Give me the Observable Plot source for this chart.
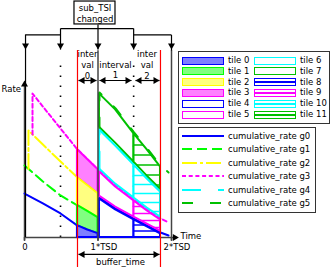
<!DOCTYPE html>
<html><head><meta charset="utf-8">
<script src="https://cdn.jsdelivr.net/npm/d3@7"></script>
<script src="https://cdn.jsdelivr.net/npm/@observablehq/plot@0.6"></script>
<style>
html,body{margin:0;padding:0;background:#fff;}
#wrap{position:relative;width:332px;height:267px;overflow:hidden;font-family:"DejaVu Sans",sans-serif;}
#wrap svg{position:absolute;left:0;top:0;}
.lbox{position:absolute;border:1.5px solid #333;box-sizing:border-box;background:#fff;}
.sw{position:absolute;box-sizing:border-box;}
.lt{position:absolute;font-size:8.5px;line-height:10px;white-space:nowrap;color:#000;}
</style></head><body><div id="wrap"></div>
<script>
// ---------- data (time in TSD units, rate normalised to axis height) ----------
// before 1*TSD
const g0T = [0, 0.25, 0.49, 0.72, 0.86, 1.0];
const g0R = [0.280, 0.217, 0.153, 0.076, 0.048, 0.025];
const g1T = [0, 0.25, 0.49, 0.72, 0.86, 1.0];
const g1R = [0.459, 0.357, 0.268, 0.204, 0.166, 0.127];
const g2T = [0.054, 0.054, 0.25, 0.49, 0.72, 0.86, 1.0];
const g2R = [0.436, 0.682, 0.592, 0.484, 0.382, 0.331, 0.280];
const g3T = [0.109, 0.109, 0.25, 0.49, 0.72, 0.86, 1.0];
const g3R = [0.656, 0.917, 0.834, 0.694, 0.561, 0.497, 0.433];
// after 1*TSD
const h0T = [1.02, 1.24, 1.49, 1.67, 1.85, 1.96];
const h0R = [0.255, 0.185, 0.121, 0.076, 0.032, 0.013];
const h3T = [1.02, 1.24, 1.49, 1.67, 1.85, 1.96];
const h3R = [0.427, 0.331, 0.242, 0.178, 0.121, 0.096];
const g4T = [1.02, 1.02, 1.24, 1.49, 1.67, 1.85, 1.96];
const g4R = [0.427, 0.694, 0.592, 0.471, 0.382, 0.299, 0.255];
const g5T = [1.02, 1.02, 1.24, 1.49, 1.67, 1.85, 1.96];
const g5R = [0.694, 0.924, 0.822, 0.669, 0.567, 0.459, 0.414];

const seriesNames = ["cumulative_rate g0","cumulative_rate g1","cumulative_rate g2","cumulative_rate g3","cumulative_rate g4","cumulative_rate g5"];
const seriesColors = ["#0000ff","#00ff00","#ffff00","#ff00ff","#00ffff","#00c000"];
const seriesDash = ["none","10 5","15 3 3 3","4 2.7","19 17","11 17"];

const tileNames = ["tile 0","tile 1","tile 2","tile 3","tile 4","tile 5","tile 6","tile 7","tile 8","tile 9","tile 10","tile 11"];
const tileColors = ["#0000ff","#00ff00","#ffff00","#ff00ff","#0000ff","#ff00ff","#00ffff","#00c000","#0000ff","#ff00ff","#00ffff","#00c000"];
const tileFills = ["#7f7fff","#80ff80","#ffff80","#ff80ff","none","none","none","none","hatch","hatch","hatch","hatch"];
const tileLower = ["zero","g0","g1","g2","zero","h0","h3","g4","zero","h0","h3","g4"];
const tileUpper = ["g0","g1","g2","g3","h0","h3","g4","g5","h0","h3","g4","g5"];
const tileInterval = [0,0,0,0,1,1,1,1,2,2,2,2];
const intervalT = [[0.72, 0.86, 1.0], [1.02, 1.24, 1.49], [1.49, 1.67, 1.85]];
const intervalLabels = ["inter\nval\n0", "interval\n1", "inter\nval\n2"];
const intervalStart = [0.735, 1.02, 1.51];
const intervalEnd = [0.98, 1.456, 1.837];
const intervalMid = [0.857, 1.238, 1.667];
const tickValues = [0, 1, 2];
const tickLabels = ["0", "1*TSD", "2*TSD"];
const bufferTime = [0.721, 1.85];
const subTsiTimes = [0.014, 0.49, 1.0, 1.485, 2.0];

// ---------- tables ----------
const curves = {
  g0: [g0T, g0R], g1: [g1T, g1R], g2: [g2T, g2R], g3: [g3T, g3R],
  h0: [h0T, h0R], h3: [h3T, h3R], g4: [g4T, g4R], g5: [g5T, g5R]
};
function valAt(key, t) {
  if (key === "zero") return 0;
  const [T, R] = curves[key]; let v;
  T.forEach((tt, i) => { if (Math.abs(tt - t) < 1e-9) v = R[i]; });
  return v;
}
const lineSeries = [
  {key:"g0", g:0},{key:"g1", g:1},{key:"g2", g:2},{key:"g3", g:3},
  {key:"h0", g:0},{key:"h3", g:3},{key:"g4", g:4},{key:"g5", g:5}
];
const lineMarks = lineSeries.map(({key, g}) => {
  const [T, R] = curves[key];
  const rows = T.map((t, i) => ({t, r: R[i]}));
  return Plot.line(rows, {x:"t", y:"r", stroke: seriesColors[g], strokeWidth: 2,
    strokeDasharray: seriesDash[g], curve: "linear"});
});
const inset = 0.009;
function tileRows(i) {
  const outl = (tileFills[i] === "none" || tileFills[i] === "hatch") ? inset : 0;
  return intervalT[tileInterval[i]].map(t => {
    const lo = valAt(tileLower[i], t), hi = valAt(tileUpper[i], t);
    return {t, lo: tileLower[i] === "zero" ? lo : lo + outl, hi: hi - outl};
  });
}
const tileOrder = [3,2,1,0, 7,6,5,4, 11,10,9,8];
const tileMarks = tileOrder.map(i => Plot.areaY(tileRows(i), {
  x:"t", y1:"lo", y2:"hi", curve:"linear",
  fill: tileFills[i] === "none" ? "none" : (tileFills[i] === "hatch" ? "white" : tileFills[i]),
  stroke: tileColors[i], strokeWidth: 2
}));

// arrows helper: filled triangle heads
const tri = (data, rot, dx, dy) => Plot.dot(data, {x:d=>d[0], y:d=>d[1], symbol:"triangle", r:2.6,
  rotate: rot, fill:"black", stroke:"none", dx, dy});

const chart = Plot.plot({
  width: 332, height: 267, margin: 0,
  x: {domain:[0, 2], range:[24, 171], axis:null},
  y: {domain:[0, 1], range:[237, 80], axis:null},
  style: {fontFamily:"DejaVu Sans, sans-serif", fontSize:"8.5px", background:"transparent", overflow:"visible", color:"black"},
  marks: [
    // dotted sub-TSI guides
    Plot.ruleX([subTsiTimes[1], subTsiTimes[3]], {y1:0, y2:1.146, stroke:"black", strokeWidth:1.6, strokeDasharray:"1.6 8.4"}),
    // axes
    Plot.ruleY([0], {x1:0, x2:2.07, stroke:"#444", strokeWidth:1.5}),
    Plot.ruleX([0], {y1:-0.02, y2:0.97, stroke:"#444", strokeWidth:1.5}),
    Plot.ruleX(tickValues, {y1:-0.025, y2:0, stroke:"#444", strokeWidth:1.5}),
    tri([[0, 1.0]], 0, 0, 4),
    tri([[2.1, 0]], 90, -4, 0),
    // curves
    ...lineMarks,
    // tiles
    ...tileMarks,
    // buffer_time red lines
    Plot.ruleX(bufferTime, {y1:-0.191, y2:1.191, stroke:"#ff0000", strokeWidth:1.2}),
    // TSD lines
    Plot.ruleX([1, 2], {y1:-0.02, y2:1.19, stroke:"#444", strokeWidth:1.5}),
    Plot.ruleX([subTsiTimes[0]], {y1:0, y2:1.29, stroke:"black", strokeWidth:1.2}),
    // tree
    Plot.link([[subTsiTimes[1], subTsiTimes[3], 1.331, 1.331],
               [subTsiTimes[0], subTsiTimes[1], 1.290, 1.290],
               [subTsiTimes[3], subTsiTimes[4], 1.290, 1.290],
               [subTsiTimes[2], subTsiTimes[2], 1.357, 1.197],
               [subTsiTimes[1], subTsiTimes[1], 1.331, 1.197],
               [subTsiTimes[3], subTsiTimes[3], 1.331, 1.197],
               [subTsiTimes[4], subTsiTimes[4], 1.290, 1.19]],
      {x1:d=>d[0], x2:d=>d[1], y1:d=>d[2], y2:d=>d[3], stroke:"black", strokeWidth:1.2}),
    tri(subTsiTimes.map(t => [t, 1.197]), 180, 0, -4),
    Plot.rect([[0.68, 1.238, 1.357, 1.503]], {x1:d=>d[0], x2:d=>d[1], y1:d=>d[2], y2:d=>d[3], fill:"white", stroke:"black", strokeWidth:1.2}),
    Plot.text(["sub_TSI\nchanged"], {x:0.96, y:1.43, lineHeight:1.25}),
    // interval arrows
    Plot.link(intervalStart.map((s, i) => [s, intervalEnd[i]]), {x1:d=>d[0], x2:d=>d[1], y1:1.0, y2:1.0, stroke:"black", strokeWidth:1.2}),
    tri(intervalStart.map(s => [s, 1.0]), -90, 4, 0),
    tri(intervalEnd.map(s => [s, 1.0]), 90, -4, 0),
    Plot.text(intervalLabels, {x:(d,i)=>intervalMid[i], y:(d,i)=> i === 1 ? 1.070 : 1.102, lineHeight:1.25}),
    // buffer_time arrow
    Plot.link([[0.735, 1.837]], {x1:d=>d[0], x2:d=>d[1], y1:-0.108, y2:-0.108, stroke:"black", strokeWidth:1.2}),
    tri([[0.735, -0.108]], -90, 4, 0),
    tri([[1.837, -0.108]], 90, -4, 0),
    Plot.text(["buffer_time"], {x:1.306, y:-0.159}),
    // tick labels, axis labels
    Plot.text(tickLabels, {x:(d,i)=>[0.007, 1.08, 2.075][i], y:-0.064}),
    Plot.text(["Rate"], {x:-0.313, y:0.943, textAnchor:"start"}),
    Plot.text(["Time"], {x:2.122, y:0.006, textAnchor:"start"})
  ]
});

// hatch patterns for tiles 8-11 (the last four area marks, drawn in order 11,10,9,8)
const defs = d3.select(chart).insert("defs", ":first-child");
const areaGroups = d3.select(chart).selectAll('g[aria-label="area"]').nodes();
const hatchTiles = tileOrder.slice(8);
hatchTiles.forEach((i, k) => {
  const gap = {8:6, 9:7, 10:9, 11:10}[i];
  const p = defs.append("pattern").attr("id", "hatch" + i).attr("patternUnits", "userSpaceOnUse")
    .attr("width", 8).attr("height", gap);
  p.append("rect").attr("width", 8).attr("height", gap).attr("fill", "white");
  p.append("line").attr("x1", 0).attr("x2", 8).attr("y1", gap / 2).attr("y2", gap / 2)
    .attr("stroke", tileColors[i]).attr("stroke-width", 1.5);
  const node = areaGroups[8 + k];
  if (node) {
    d3.select(node).attr("fill", `url(#hatch${i})`);
    d3.select(node).selectAll("path").attr("fill", `url(#hatch${i})`);
  }
});

const wrap = document.getElementById("wrap");
wrap.appendChild(chart);

// ---------- legends ----------
function add(cls, style, text) {
  const d = document.createElement("div"); d.className = cls;
  Object.assign(d.style, style); if (text) d.textContent = text; wrap.appendChild(d); return d;
}
add("lbox", {left:"178px", top:"51px", width:"152px", height:"73px"});
tileNames.forEach((name, i) => {
  const col = i < 6 ? 0 : 1, row = i % 6;
  const cy = 60 + row * 10.8;
  const sx = col ? 254 : 182, lx = col ? 300 : 228;
  let bg = tileFills[i];
  if (bg === "none") bg = "white";
  if (bg === "hatch") bg = `linear-gradient(to bottom, white 0 35%, ${tileColors[i]} 35% 65%, white 65% 100%)`;
  add("sw", {left: sx + "px", top: (cy - 3.5) + "px", width:"42px", height:"8px",
    border: `1.5px solid ${tileColors[i]}`, background: bg});
  add("lt", {left: lx + "px", top: (cy - 5) + "px"}, name);
});
add("lbox", {left:"178px", top:"127px", width:"138px", height:"86px"});
seriesNames.forEach((name, i) => {
  const cy = 136 + i * 13.4;
  const s = document.createElementNS("http://www.w3.org/2000/svg", "svg");
  s.setAttribute("width", 42); s.setAttribute("height", 6);
  s.style.position = "absolute"; s.style.left = "182px"; s.style.top = (cy - 3) + "px";
  const l = document.createElementNS("http://www.w3.org/2000/svg", "line");
  l.setAttribute("x1", 0); l.setAttribute("x2", 42); l.setAttribute("y1", 3); l.setAttribute("y2", 3);
  l.setAttribute("stroke", seriesColors[i]); l.setAttribute("stroke-width", 2);
  if (seriesDash[i] !== "none") l.setAttribute("stroke-dasharray", seriesDash[i]);
  s.appendChild(l); wrap.appendChild(s);
  add("lt", {left:"228px", top: (cy - 5) + "px"}, name);
});
</script></body></html>
